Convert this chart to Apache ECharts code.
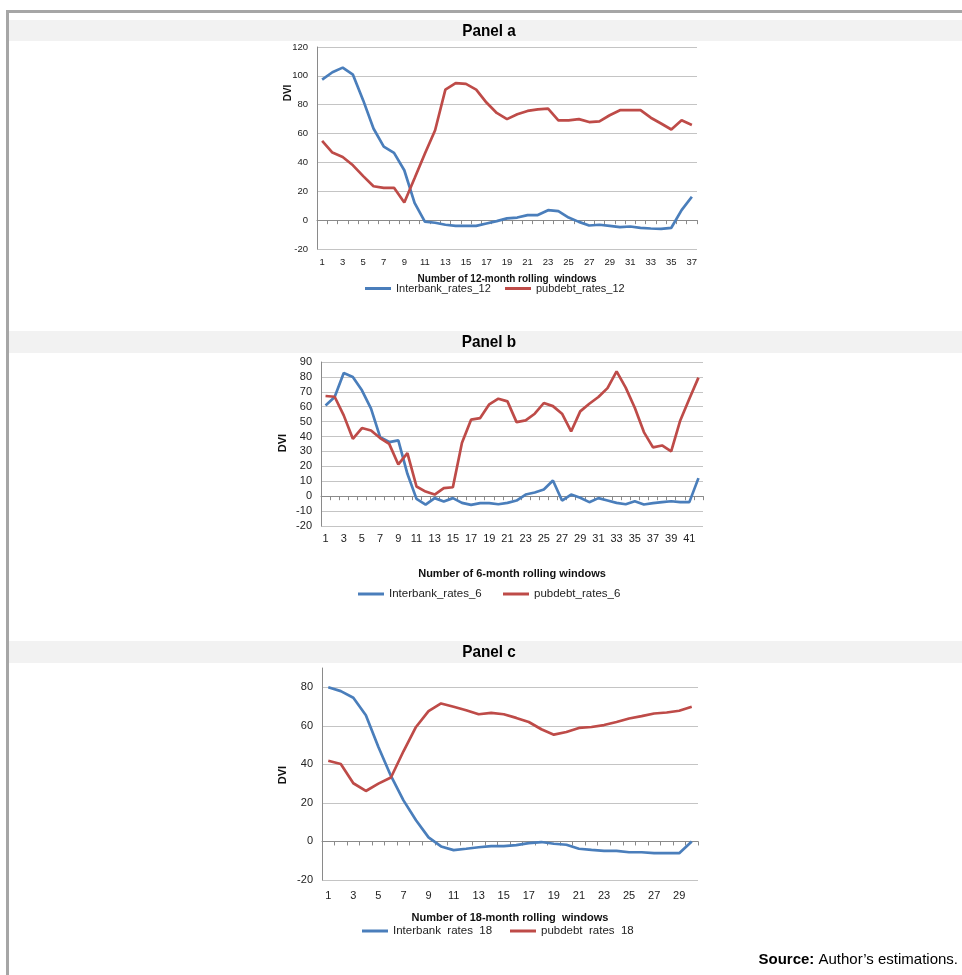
<!DOCTYPE html>
<html><head><meta charset="utf-8">
<script src="https://cdn.jsdelivr.net/npm/echarts@6/dist/echarts.min.js"></script>
<style>html,body{margin:0;padding:0;background:#fff}#c{width:962px;height:975px}</style>
</head><body><div id="c"></div><script>
// ---- data ----
const catsA = ['1','2','3','4','5','6','7','8','9','10','11','12','13','14','15','16','17','18','19','20','21','22','23','24','25','26','27','28','29','30','31','32','33','34','35','36','37'];
const interbank12 = [97.4,102.5,105.7,100.8,83,63.5,51,46.6,34.6,12,-1,-1.8,-3.2,-4,-4,-4,-2.3,-0.7,1.2,1.8,3.5,3.5,6.9,6.2,1.8,-1.2,-3.7,-3.2,-4,-4.8,-4.4,-5.3,-5.8,-6,-5.3,6.9,16.2];
const pubdebt12 = [55,46.8,43.8,38,30.5,23.5,22.4,22.4,12.2,29,46,62.3,90.5,95,94.4,90.5,81.5,74.3,70,73.4,75.7,76.8,77.3,69.2,69.2,70,68,68.5,72.7,76.2,76.2,76.2,71,67,62.8,69.2,66];

const catsB = ['1','2','3','4','5','6','7','8','9','10','11','12','13','14','15','16','17','18','19','20','21','22','23','24','25','26','27','28','29','30','31','32','33','34','35','36','37','38','39','40','41','42'];
const interbank6 = [60.9,66.5,82.6,79.9,71,58.7,39.6,36.3,37.4,15,-1.8,-5.6,-1.3,-3.6,-1.3,-4.5,-5.8,-4.7,-4.7,-5.4,-4.5,-2.9,1.1,2.5,4.5,10.5,-2.9,1.1,-1.1,-4,-1.3,-2.9,-4.5,-5.4,-3.4,-5.6,-4.7,-4,-3.4,-4,-4,12.1];
const pubdebt6 = [67.2,66.7,54.2,38.5,45.7,44.1,39,35.1,21.3,28.9,6.5,3.1,1.1,5.4,6,35.8,51.3,52.4,61.6,65.4,63.6,49.7,50.8,55.3,62.5,60.4,55.3,43.4,56.9,62,66.5,72.5,83.7,72.8,59.3,43,32.7,34,30,50.8,65.4,79.5];

const catsC = ['1','2','3','4','5','6','7','8','9','10','11','12','13','14','15','16','17','18','19','20','21','22','23','24','25','26','27','28','29','30'];
const interbank18 = [80,78,74.6,65.5,49,34,21.3,11,2.1,-2.6,-4.5,-3.8,-3,-2.4,-2.4,-1.9,-0.9,-0.3,-1.2,-1.7,-3.8,-4.4,-4.9,-4.9,-5.6,-5.6,-6.1,-6.1,-6.1,0];
const pubdebt18 = [41.9,40.2,30.2,26.2,30,33.2,46.8,59.4,67.6,71.6,69.9,68.1,66,66.7,66,64.1,62,58.2,55.4,56.8,58.9,59.4,60.4,62,63.8,65,66.4,66.9,67.8,69.9];

const panelTitles = ['Panel a','Panel b','Panel c'];
const xNames = ['Number of 12-month rolling  windows','Number of 6-month rolling windows','Number of 18-month rolling  windows'];
const seriesNames = [['Interbank_rates_12','pubdebt_rates_12'],['Interbank_rates_6','pubdebt_rates_6'],['Interbank  rates  18','pubdebt  rates  18']];

// ---- styling ----
const BLUE = '#4a7ebb', RED = '#be4b48';
const FONT = 'Liberation Sans, Arial, sans-serif';
const GRIDC = '#c4c4c4', AXC = '#8a8a8a';

const panels = [
  {cats: catsA, a: interbank12, b: pubdebt12, grid:{left:317, top:47, width:380, height:202}, min:-20, max:120, interval:20, fs:9.5, lblMargin:8, nameGap:25, nameFs:10, legendTop:283, legendLeft:[365,505], legFs:11, hideMax:false},
  {cats: catsB, a: interbank6, b: pubdebt6, grid:{left:321, top:362, width:382, height:164}, min:-20, max:90, interval:10, fs:11, lblMargin:7, nameGap:42, nameFs:11, legendTop:588, legendLeft:[358,503], legFs:11.5, hideMax:false},
  {cats: catsC, a: interbank18, b: pubdebt18, grid:{left:322, top:668, width:376, height:212}, min:-20, max:90, interval:20, fs:11, lblMargin:10, nameGap:32, nameFs:11, legendTop:925, legendLeft:[362,510], legFs:11.5, hideMax:true}
];

const grid = [], xAxis = [], yAxis = [], series = [], legend = [];
panels.forEach((p, i) => {
  grid.push(p.grid);
  xAxis.push({
    type:'category', gridIndex:i, data:p.cats, position:'bottom', boundaryGap:true,
    axisLine:{show:false, onZero:false}, axisTick:{show:false},
    axisLabel:{interval:1, color:'#222', fontFamily:FONT, fontSize:p.fs, margin:p.lblMargin},
    splitLine:{show:false},
    name:xNames[i], nameLocation:'middle', nameGap:p.nameGap,
    nameTextStyle:{fontFamily:FONT, fontWeight:'bold', fontSize:p.nameFs, color:'#111'}
  });
  xAxis.push({
    type:'category', gridIndex:i, data:p.cats, position:'top', boundaryGap:true,
    axisLine:{show:true, onZero:true, lineStyle:{color:AXC, width:1}},
    axisTick:{show:true, inside:true, length:4, interval:0, lineStyle:{color:AXC}},
    axisLabel:{show:false}, splitLine:{show:false}
  });
  yAxis.push({
    type:'value', gridIndex:i, min:p.min, max:p.max, interval:p.interval,
    axisLine:{show:true, lineStyle:{color:AXC, width:1}}, axisTick:{show:false},
    axisLabel:{color:'#222', fontFamily:FONT, fontSize:p.fs, margin:9, showMaxLabel:!p.hideMax},
    splitLine:{show:true, showMaxLine:!p.hideMax, lineStyle:{color:GRIDC, width:1}}
  });
  series.push({type:'line', name:seriesNames[i][0], xAxisIndex:2*i, yAxisIndex:i, data:p.a, symbol:'none', lineStyle:{color:BLUE, width:2.7}, itemStyle:{color:BLUE}, smooth:false});
  series.push({type:'line', name:seriesNames[i][1], xAxisIndex:2*i, yAxisIndex:i, data:p.b, symbol:'none', lineStyle:{color:RED, width:2.7}, itemStyle:{color:RED}, smooth:false});
  [0,1].forEach(k => legend.push({
    data:[{name:seriesNames[i][k], icon:'rect', itemStyle:{color:k ? RED : BLUE}}],
    left:p.legendLeft[k], top:p.legendTop, itemWidth:26, itemHeight:3, padding:0,
    textStyle:{fontFamily:FONT, fontSize:p.legFs, color:'#222'}, selectedMode:false
  }));
});

const graphic = [
  {type:'rect', shape:{x:6, y:10, width:960, height:3}, style:{fill:'#a6a6a6'}, silent:true},
  {type:'rect', shape:{x:6, y:10, width:3, height:970}, style:{fill:'#a6a6a6'}, silent:true},
  {type:'rect', shape:{x:9, y:20, width:960, height:21}, style:{fill:'#f2f2f2'}, silent:true},
  {type:'rect', shape:{x:9, y:331, width:960, height:22}, style:{fill:'#f2f2f2'}, silent:true},
  {type:'rect', shape:{x:9, y:641, width:960, height:22}, style:{fill:'#f2f2f2'}, silent:true}
];
[31, 342, 652].forEach((y, i) => graphic.push({
  type:'text', x:489, y:y, scaleX:0.9, style:{text:panelTitles[i], x:0, y:0, align:'center', verticalAlign:'middle',
  font:'bold 17px "Liberation Sans", Arial, sans-serif', fill:'#000'}
}));
[[288, 93, 10], [283, 443, 11], [283, 775, 11]].forEach(([x, y, fs]) => graphic.push({
  type:'text', x:x, y:y, rotation:Math.PI/2, style:{text:'DVI', x:0, y:0, align:'center', verticalAlign:'middle',
  font:'bold ' + fs + 'px "Liberation Sans", Arial, sans-serif', fill:'#111'}
}));
graphic.push({
  type:'text', right:4, top:952,
  style:{text:'{b|Source:} Author’s estimations.', font:'15px "Liberation Sans", Arial, sans-serif', fill:'#000',
    rich:{b:{fontWeight:'bold', fontSize:15, fontFamily:'Liberation Sans, Arial, sans-serif', fill:'#000'}}}
});

const chart = echarts.init(document.getElementById('c'), null, {renderer:'canvas'});
chart.setOption({animation:false, backgroundColor:'#fff', grid, xAxis, yAxis, series, legend, graphic});
</script></body></html>
